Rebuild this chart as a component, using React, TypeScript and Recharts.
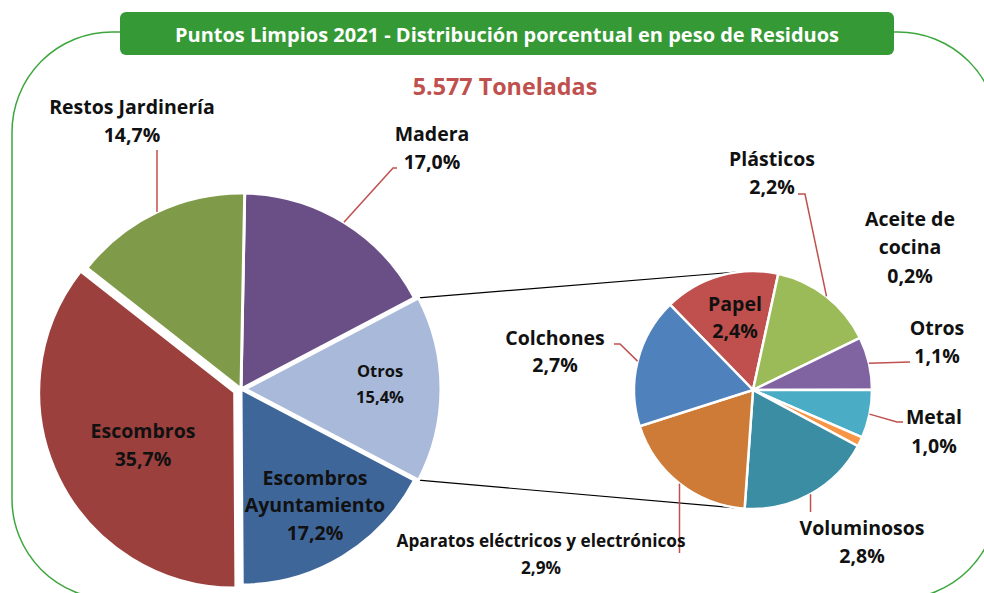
import React from 'react';
import { PieChart, Pie, Cell } from 'recharts';

// main pie (Otros is broken out into the secondary pie)
const mainNames = ['Otros', 'Madera', 'Restos Jardinería', 'Escombros', 'Escombros\nAyuntamiento'];
const mainValues = [15.4, 17.0, 14.7, 35.7, 17.2];
const mainColors = ['#A9B9D9', '#6A4F87', '#7F9A48', '#9C403E', '#3F6699'];

// secondary pie: breakdown of "Otros"
const subNames = ['Papel', 'Plásticos', 'Otros', 'Metal', 'Aceite de\ncocina', 'Voluminosos', 'Aparatos eléctricos y electrónicos', 'Colchones'];
const subValues = [2.4, 2.2, 1.1, 1.0, 0.2, 2.8, 2.9, 2.7];
const subColors = ['#C0504D', '#9BBB59', '#8064A2', '#4BACC6', '#F79646', '#3B8DA3', '#CD7B37', '#4F81BD'];

const title = 'Puntos Limpios 2021 - Distribución porcentual en peso de Residuos';
const subtitle = '5.577 Toneladas';

const W = 984;
const H = 593;
const RADIAN = Math.PI / 180;
const FONT = '"Open Sans", Lato, sans-serif';

const MAIN = { cx: 241, cy: 389, r: 196 };
const SUB = { cx: 753, cy: 390, r: 119 };

const mainTotal = mainValues.reduce((a, b) => a + b, 0);
const mainStart = -((mainValues[0] / mainTotal) * 360) / 2;
const subStart = 134.2;

// label layout, offsets relative to the pie centre
type LabelSpec = { at: [number, number]; size: number; lh: number; path?: Array<[number | null, number]> };

const mainLabels: LabelSpec[] = [
  { at: [139, -6], size: 16.5, lh: 26 },
  { at: [191, -242], size: 19.5, lh: 28, path: [[152, -221], [156, -221]] },
  { at: [-109, -269], size: 19.5, lh: 28, path: [[null, -239]] },
  { at: [-98, 55], size: 19.5, lh: 28 },
  { at: [74, 115], size: 19.5, lh: 27.5 },
];

const subLabels: LabelSpec[] = [
  { at: [-18, -74], size: 19.5, lh: 27 },
  { at: [19, -218], size: 19.5, lh: 28, path: [[52, -196], [45, -196]] },
  { at: [184, -49], size: 19.5, lh: 28, path: [[157, -28]] },
  { at: [181, 40], size: 19.5, lh: 29, path: [[144, 32], [150, 32]] },
  { at: [157, -144], size: 19.5, lh: 28.5 },
  { at: [109, 151], size: 19.5, lh: 28, path: [[null, 122]] },
  { at: [-212, 163], size: 17.2, lh: 27, path: [[null, 163]] },
  { at: [-198, -40], size: 19.5, lh: 27, path: [[-133, -46], [-139, -46]] },
];

const mainExplode = [4, 0, 0, 7, 0];

const pct = (v: number) => `${v.toFixed(1).replace('.', ',')}%`;

const midAngles = (values: number[], start: number, dir: number) => {
  const total = values.reduce((a, b) => a + b, 0);
  let acc = start;
  return values.map((v) => {
    const span = (v / total) * 360 * dir;
    const mid = acc + span / 2;
    acc += span;
    return mid;
  });
};

const mainMids = midAngles(mainValues, mainStart, 1);

const makeLabel = (names: string[], values: number[], specs: LabelSpec[]) => (props: any) => {
  const { cx, cy, midAngle, outerRadius, index } = props;
  const s = specs[index];
  const ex = cx + outerRadius * Math.cos(-midAngle * RADIAN);
  const ey = cy + outerRadius * Math.sin(-midAngle * RADIAN);
  const pts = s.path
    ? [[ex, ey], ...s.path.map(([x, y]) => [x === null ? ex : cx + x, cy + y])]
    : null;
  const lines = [...names[index].split('\n'), pct(values[index])];
  const tx = cx + s.at[0];
  const top = cy + s.at[1] - (s.lh * (lines.length - 1)) / 2;
  return (
    <g key={`lbl-${index}`}>
      {pts && (
        <polyline
          points={pts.map((p) => p.join(',')).join(' ')}
          fill="none"
          stroke="#C0504D"
          strokeWidth={1.5}
        />
      )}
      <text
        textAnchor="middle"
        dominantBaseline="central"
        fontFamily={FONT}
        fontWeight={700}
        fontSize={s.size}
        fill="#111"
      >
        {lines.map((t, i) => (
          <tspan key={i} x={tx} y={top + i * s.lh}>
            {t}
          </tspan>
        ))}
      </text>
    </g>
  );
};

const mainData = mainNames.map((name, i) => ({ name, value: mainValues[i] }));
const subData = subNames.map((name, i) => ({ name, value: subValues[i] }));

// connector lines from the broken-out slice to the secondary pie
const polar = (c: { cx: number; cy: number; r: number }, deg: number) => [
  c.cx + c.r * Math.cos(-deg * RADIAN),
  c.cy + c.r * Math.sin(-deg * RADIAN),
];
const topA = polar({ ...MAIN, cx: MAIN.cx + mainExplode[0] }, -mainStart);
const botA = polar({ ...MAIN, cx: MAIN.cx + mainExplode[0] }, mainStart);
const topB = polar(SUB, 96.5);
const botB = polar(SUB, -97);

export default function App() {
  return (
    <div style={{ position: 'absolute', left: 0, top: 0, width: W, height: H, background: '#fff', overflow: 'hidden' }}>
      <svg width={W} height={H} style={{ position: 'absolute', left: 0, top: 0 }}>
        <rect x={12} y={32} width={986} height={567} rx={100} fill="none" stroke="#3DA63D" strokeWidth={1.5} />
        <rect x={120} y={12} width={774} height={43} rx={6} fill="#359A35" />
        <text x={507} y={34} textAnchor="middle" dominantBaseline="central" fontFamily={FONT} fontWeight={700} fontSize={20} fill="#fff">
          {title}
        </text>
        <text x={505} y={86} textAnchor="middle" dominantBaseline="central" fontFamily={FONT} fontWeight={700} fontSize={23.3} fill="#C0504D">
          {subtitle}
        </text>
        <line x1={topA[0]} y1={topA[1]} x2={topB[0]} y2={topB[1]} stroke="#000" strokeWidth={1.2} />
        <line x1={botA[0]} y1={botA[1]} x2={botB[0]} y2={botB[1]} stroke="#000" strokeWidth={1.2} />
      </svg>
      <div style={{ position: 'absolute', left: 0, top: 0 }}>
        <PieChart width={W} height={H} margin={{ top: 0, right: 0, bottom: 0, left: 0 }}>
          <Pie
            data={mainData}
            dataKey="value"
            nameKey="name"
            cx={MAIN.cx}
            cy={MAIN.cy}
            outerRadius={MAIN.r}
            startAngle={mainStart}
            endAngle={mainStart + 360}
            stroke="#fff"
            strokeWidth={3}
            label={makeLabel(mainNames, mainValues, mainLabels)}
            labelLine={false}
            isAnimationActive={false}
          >
            {mainData.map((d, i) => {
              const dx = mainExplode[i] * Math.cos(-mainMids[i] * RADIAN);
              const dy = mainExplode[i] * Math.sin(-mainMids[i] * RADIAN);
              return (
                <Cell
                  key={d.name}
                  fill={mainColors[i]}
                  style={{ transform: `translate(${dx}px, ${dy}px)` }}
                />
              );
            })}
          </Pie>
          <Pie
            data={subData}
            dataKey="value"
            nameKey="name"
            cx={SUB.cx}
            cy={SUB.cy}
            outerRadius={SUB.r}
            startAngle={subStart}
            endAngle={subStart - 360}
            stroke="#fff"
            strokeWidth={2.5}
            label={makeLabel(subNames, subValues, subLabels)}
            labelLine={false}
            isAnimationActive={false}
          >
            {subData.map((d, i) => (
              <Cell key={d.name} fill={subColors[i]} />
            ))}
          </Pie>
        </PieChart>
      </div>
    </div>
  );
}
